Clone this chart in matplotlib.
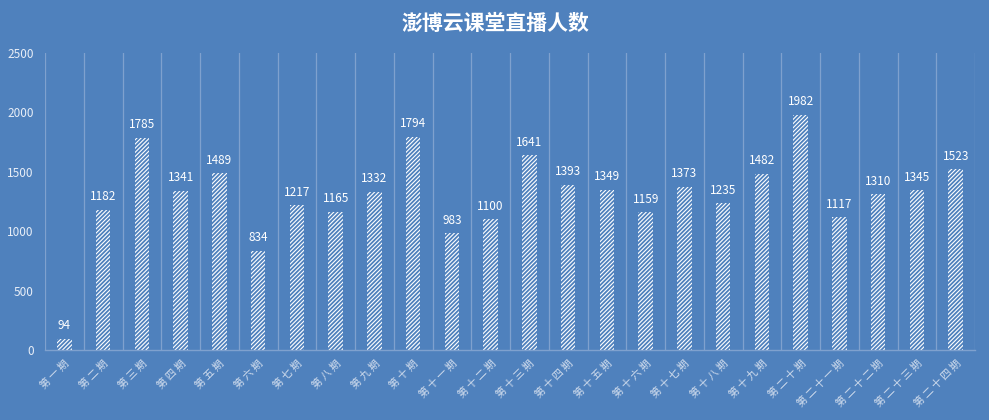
import matplotlib
matplotlib.use("Agg")
import matplotlib.pyplot as plt
import numpy as np

plt.rcParams['font.family'] = ['Noto Sans CJK SC', 'DejaVu Sans']
plt.rcParams['hatch.linewidth'] = 0.8

categories = ["第一期", "第二期", "第三期", "第四期", "第五期", "第六期", "第七期", "第八期",
              "第九期", "第十期", "第十一期", "第十二期", "第十三期", "第十四期", "第十五期",
              "第十六期", "第十七期", "第十八期", "第十九期", "第二十期", "第二十一期",
              "第二十二期", "第二十三期", "第二十四期"]
viewers = [94, 1182, 1785, 1341, 1489, 834, 1217, 1165, 1332, 1794, 983, 1100, 1641,
           1393, 1349, 1159, 1373, 1235, 1482, 1982, 1117, 1310, 1345, 1523]

BG = "#4F81BD"
GRID = "#7FA1CE"
TEXT = "#E8EEF7"

fig = plt.figure(figsize=(9.89, 4.2), dpi=100, facecolor=BG)
ax = fig.add_axes([45 / 989, 70 / 420, 930 / 989, 297 / 420], facecolor=BG)

x = np.arange(len(categories))
ax.bar(x, viewers, width=0.37, facecolor="none", edgecolor="white",
       hatch="////////", linewidth=0)

for xi, v in zip(x, viewers):
    ax.text(xi, v + 55, str(v), ha="center", va="bottom", fontsize=8.5, color="white")

ax.set_xlim(-0.5, len(categories) - 0.5)
ax.set_ylim(0, 2500)
ax.set_yticks(range(0, 2501, 500))
ax.tick_params(axis="y", length=0, colors=TEXT, labelsize=8.5, pad=8)
ax.tick_params(axis="x", length=0, colors="#D3DEEE", labelsize=7.5, pad=6)
ax.set_xticks(x)
ax.set_xticklabels([" ".join(c) for c in categories], rotation=45, ha="right",
                   rotation_mode="anchor")

for b in np.arange(-0.5, len(categories) + 0.5, 1):
    ax.axvline(b, color=GRID, linewidth=0.9, zorder=0)

for s in ["top", "right", "left"]:
    ax.spines[s].set_visible(False)
ax.spines["bottom"].set_color(GRID)
ax.spines["bottom"].set_linewidth(1.0)

fig.text(495 / 989, 1 - 23 / 420, "澎博云课堂直播人数", ha="center", va="center",
         fontsize=15, fontweight="bold", color="white")

fig.savefig("out.png", dpi=100, facecolor=BG)
